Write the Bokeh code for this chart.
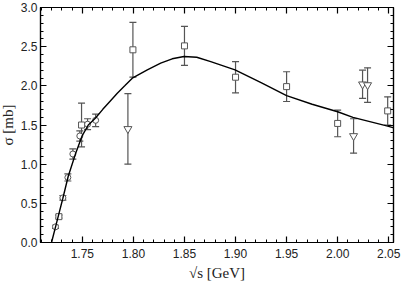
from bokeh.plotting import figure
from bokeh.models import (ColumnDataSource, Whisker, TeeHead, LinearAxis,
                          SingleIntervalTicker, PrintfTickFormatter, Range1d)
from bokeh.embed import file_html
from bokeh.resources import INLINE

# fitted curve
curve_x = [1.7198, 1.7263, 1.7309, 1.7361, 1.7433, 1.7499, 1.7558, 1.7629, 1.7700,
           1.7776, 1.7842, 1.7915, 1.7989, 1.8136, 1.8267, 1.8380, 1.8495, 1.8620,
           1.8757, 1.8995, 1.9250, 1.9500, 1.9750, 2.0000, 2.0150, 2.0490, 2.0550]
curve_y = [0.0, 0.33, 0.565, 0.843, 1.134, 1.365, 1.50, 1.59, 1.70,
           1.81, 1.905, 2.00, 2.098, 2.204, 2.29, 2.345, 2.375, 2.365,
           2.31, 2.204, 2.04, 1.874, 1.765, 1.669, 1.597, 1.485, 1.463]

# data sets
sq_x = [1.7270, 1.7492, 1.7995, 1.8500, 1.9000, 1.9500, 2.0000, 2.0490]
sq_y = [0.33, 1.50, 2.46, 2.51, 2.11, 1.99, 1.52, 1.68]
sq_e = [0.02, 0.28, 0.35, 0.25, 0.20, 0.19, 0.17, 0.18]

ci_x = [1.7237, 1.7309, 1.7358, 1.7407, 1.7475, 1.7551, 1.7630]
ci_y = [0.20, 0.57, 0.83, 1.13, 1.36, 1.51, 1.56]
ci_e = [0.02, 0.03, 0.045, 0.065, 0.065, 0.07, 0.08]

tr_x = [1.7946, 2.0156, 2.0244, 2.0293]
tr_y = [1.45, 1.36, 2.02, 2.01]
tr_e = [0.45, 0.22, 0.18, 0.22]

x_ticks_fmt = "%.2f"
y_ticks_fmt = "%.1f"

p = figure(width=413, height=285, output_backend="svg", toolbar_location=None,
           x_range=Range1d(1.709, 2.0547), y_range=Range1d(0, 3.0),
           min_border_left=30, min_border_right=16, min_border_top=7,
           min_border_bottom=43)
p.styles = {"position": "absolute", "top": "0px", "left": "-4px"}
p.grid.visible = False
p.background_fill_color = "white"
p.outline_line_color = "black"
p.outline_line_width = 1.2

EB = "#555555"
MK = "#555555"

def add_set(xs, ys, es, marker, size):
    src = ColumnDataSource(dict(x=xs, y=ys,
                                lo=[a - b for a, b in zip(ys, es)],
                                hi=[a + b for a, b in zip(ys, es)]))
    w = Whisker(source=src, base="x", upper="hi", lower="lo", dimension="height",
                line_color=EB, line_width=1.2,
                upper_head=TeeHead(size=7, line_color=EB, line_width=1.2),
                lower_head=TeeHead(size=7, line_color=EB, line_width=1.2))
    p.add_layout(w)
    p.scatter("x", "y", source=src, marker=marker, size=size,
              fill_color="white", line_color=MK, line_width=1)

add_set(sq_x, sq_y, sq_e, "square", 6)
add_set(ci_x, ci_y, ci_e, "circle", 6)
add_set(tr_x, tr_y, tr_e, "inverted_triangle", 8)

p.line(curve_x, curve_y, line_color="black", line_width=1.4)

def style(ax, labels=True):
    ax.axis_line_color = "black"
    ax.axis_line_width = 1.2
    ax.major_tick_in = 6
    ax.major_tick_out = 0
    ax.minor_tick_in = 3
    ax.minor_tick_out = 0
    ax.major_tick_line_color = "black"
    ax.minor_tick_line_color = "black"
    ax.major_tick_line_width = 1.2
    ax.minor_tick_line_width = 1
    ax.major_label_text_font = "Liberation Sans"
    ax.major_label_text_font_size = "12px" if labels else "2px"
    ax.major_label_text_color = "#222222" if labels else None
    ax.major_label_standoff = 6 if labels else 0

p.xaxis.ticker = SingleIntervalTicker(interval=0.05, num_minor_ticks=5)
p.yaxis.ticker = SingleIntervalTicker(interval=0.5, num_minor_ticks=5)
p.xaxis.formatter = PrintfTickFormatter(format=x_ticks_fmt)
p.yaxis.formatter = PrintfTickFormatter(format=y_ticks_fmt)
style(p.xaxis[0])
style(p.yaxis[0])
p.yaxis[0].major_label_standoff = 3
p.xaxis.axis_label = "√s [GeV]"
p.yaxis.axis_label = "σ [mb]"
for ax in (p.xaxis[0], p.yaxis[0]):
    ax.axis_label_text_font = "Liberation Serif"
    ax.axis_label_text_font_size = "15px"
    ax.axis_label_text_font_style = "normal"
    ax.axis_label_text_color = "#222222"
    ax.axis_label_standoff = 2
p.xaxis[0].axis_label_standoff = 4

top = LinearAxis(ticker=SingleIntervalTicker(interval=0.05, num_minor_ticks=5))
style(top, labels=False)
p.add_layout(top, "above")
right = LinearAxis(ticker=SingleIntervalTicker(interval=0.5, num_minor_ticks=5))
style(right, labels=False)
p.add_layout(right, "right")

open("out.html", "w").write(file_html(p, INLINE))
